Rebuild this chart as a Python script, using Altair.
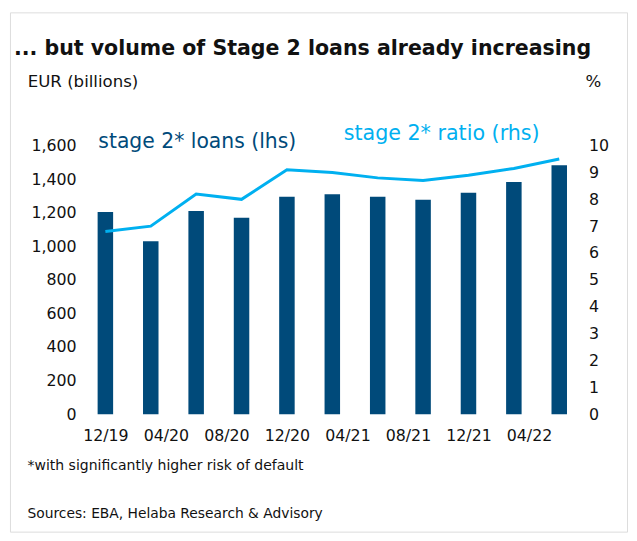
import altair as alt
import pandas as pd

# ---- data ----
periods = ["12/19", "03/20", "06/20", "09/20", "12/20", "03/21",
           "06/21", "09/21", "12/21", "03/22", "06/22"]
loans = [1205, 1030, 1210, 1170, 1295, 1310, 1295, 1278, 1320, 1383, 1483]
ratio = [6.8, 7.0, 8.2, 8.0, 9.1, 9.0, 8.8, 8.7, 8.9, 9.15, 9.5]
tick_labels = ["12/19", "04/20", "08/20", "12/20", "04/21", "08/21", "12/21", "04/22"]
left_ticks = [0, 200, 400, 600, 800, 1000, 1200, 1400, 1600]
right_ticks = [0, 1, 2, 3, 4, 5, 6, 7, 8, 9, 10]

title_text = "... but volume of Stage 2 loans already increasing"
left_unit = "EUR (billions)"
right_unit = "%"
loans_label = "stage 2* loans (lhs)"
ratio_label = "stage 2* ratio (rhs)"
foot_1 = "*with significantly higher risk of default"
foot_2 = "Sources: EBA, Helaba Research & Advisory"

# month index counted from 12/19
def month_index(p):
    mm, yy = p.split("/")
    return (int(yy) - 19) * 12 + int(mm) - 12

df = pd.DataFrame({
    "period": periods,
    "m": [month_index(p) for p in periods],
    "loans": loans,
    "ratio": ratio,
})

FONT = "DejaVu Sans"
DARK = "#004a7a"
LIGHT = "#00b0f0"
TXT = "#111111"

W_PLOT = 506.5
H_PLOT = 272
PAD_L = 75.24
PAD_T = 136
SVG_W = 629
SVG_H = 529

label_expr = "[" + ",".join("'%s'" % t for t in tick_labels) + "][round(datum.value / 4)]"

x_enc = alt.X(
    "m:Q",
    scale=alt.Scale(domain=[-1.2, 31.2], nice=False, zero=False),
    axis=alt.Axis(
        values=[4 * i for i in range(len(tick_labels))],
        labelExpr=label_expr,
        title=None, grid=False, domain=False, ticks=False,
        labelFont=FONT, labelFontSize=16, labelColor=TXT,
        labelBaseline="alphabetic", labelPadding=27,
        labelAlign="center",
    ),
)

bars = alt.Chart(df).mark_bar(color=DARK, size=15.7).encode(
    x=x_enc,
    y=alt.Y(
        "loans:Q",
        scale=alt.Scale(domain=[0, 1600], nice=False),
        axis=alt.Axis(
            values=left_ticks, format=",d", title=None, grid=False,
            domain=False, ticks=False, orient="left",
            labelFont=FONT, labelFontSize=16, labelColor=TXT, labelPadding=6.2,
        ),
    ),
)

line = alt.Chart(df).mark_line(color=LIGHT, strokeWidth=3).encode(
    x=alt.X("m:Q"),
    y=alt.Y(
        "ratio:Q",
        scale=alt.Scale(domain=[0, 10], nice=False),
        axis=alt.Axis(
            values=right_ticks, format="d", title=None, grid=False,
            domain=False, ticks=False, orient="right",
            labelFont=FONT, labelFontSize=16, labelColor=TXT, labelPadding=6.3,
        ),
    ),
)

base = alt.layer(bars, line).resolve_scale(y="independent")


def text_layer(txt, px, py, size, color=TXT, weight="normal"):
    # px/py are page-pixel positions converted to plot-area offsets
    return alt.Chart(pd.DataFrame({"t": [txt]})).mark_text(
        align="left", baseline="alphabetic", font=FONT,
        fontSize=size, fontWeight=weight, color=color,
    ).encode(
        text="t:N",
        x=alt.value(px - 8 - PAD_L),
        y=alt.value(py - 8 - PAD_T),
    )


border = alt.Chart(pd.DataFrame({"b": [1]})).mark_rect(
    filled=False, stroke="#dcdcdc", strokeWidth=1
).encode(
    x=alt.value(10.5 - 8 - PAD_L),
    x2=alt.value(635.5 - 8 - PAD_L),
    y=alt.value(9.5 - 8 - PAD_T),
    y2=alt.value(535.5 - 8 - PAD_T),
)

texts = [
    text_layer(title_text, 14, 52.7, 20.8, TXT, "bold"),
    text_layer(left_unit, 28, 85, 16.8),
    text_layer(right_unit, 593, 85, 16.8),
    text_layer(loans_label, 99.5, 146.7, 20.6, DARK),
    text_layer(ratio_label, 348, 138, 20.9, LIGHT),
    text_layer(foot_1, 27.7, 473, 14.2),
    text_layer(foot_2, 27.7, 521, 14.0),
]

chart = alt.layer(border, base, *texts).properties(
    width=W_PLOT,
    height=H_PLOT,
    autosize=alt.AutoSizeParams(type="none"),
    padding={"left": PAD_L, "top": PAD_T,
             "right": SVG_W - PAD_L - W_PLOT,
             "bottom": SVG_H - PAD_T - H_PLOT},
    background="white",
).configure_view(stroke=None)

chart.save("out.html", embed_options={"renderer": "svg", "actions": False})
